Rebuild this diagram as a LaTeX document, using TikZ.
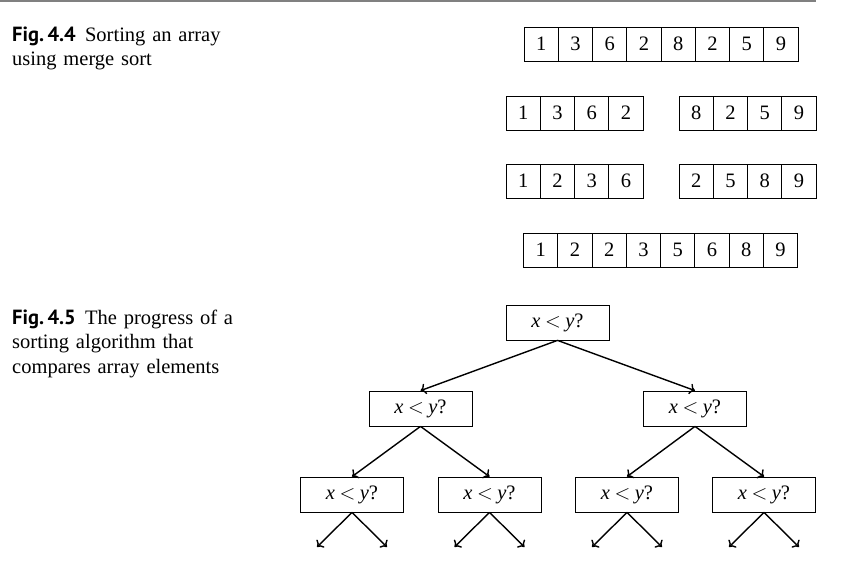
\documentclass[tikz,border=0pt]{standalone}
\usepackage{fontspec}
\setmainfont{Liberation Serif}
\newfontfamily\capfont{PT Sans}
\usetikzlibrary{arrows.meta}
\newcommand{\xlty}{\textit{x}\hspace{0.22em}$<$\hspace{0.22em}\textit{y}?}
\begin{document}
\begin{tikzpicture}[x=1pt,y=-1pt,
  font=\fontsize{20.5}{24.5}\selectfont,
  cell/.style={draw, line width=0.75pt, minimum width=34.25pt, minimum height=34pt, inner sep=0pt},
  qbox/.style={draw, line width=0.75pt, minimum width=103pt, minimum height=35pt, inner sep=0pt},
  arr/.style={line width=1.4pt, -{To[length=5.5pt,width=11pt]}},
  capt/.style={text width=250pt, align=left, inner sep=0pt, anchor=base west}]
\useasboundingbox (0,0) rectangle (861,568);
% top rule
\draw[line width=1.5pt, color=black!50] (0,1) -- (816,1);
% captions
\node[capt] (cap44) at (12,41) {{\capfont\bfseries Fig.\,4.4}\hspace{0.45em}Sorting an array\\using merge sort};
\node[capt] (cap45) at (12,324) {{\capfont\bfseries Fig.\,4.5}\hspace{0.45em}The progress of a\\sorting algorithm that\\compares array elements};
% arrays
\foreach \v [count=\i] in {1,3,6,2,8,2,5,9}
  \node[cell] (ra-\i) at ({524+34.25*(\i-0.5)},44) {\v};
\foreach \v [count=\i] in {1,3,6,2}
  \node[cell] (rbl-\i) at ({506+34.25*(\i-0.5)},113) {\v};
\foreach \v [count=\i] in {8,2,5,9}
  \node[cell] (rbr-\i) at ({679+34.25*(\i-0.5)},113) {\v};
\foreach \v [count=\i] in {1,2,3,6}
  \node[cell] (rcl-\i) at ({506+34.25*(\i-0.5)},181) {\v};
\foreach \v [count=\i] in {2,5,8,9}
  \node[cell] (rcr-\i) at ({679+34.25*(\i-0.5)},181) {\v};
\foreach \v [count=\i] in {1,2,2,3,5,6,8,9}
  \node[cell] (rd-\i) at ({523.5+34.25*(\i-0.5)},250) {\v};
% tree
\node[qbox] (root) at (557.5,322.5) {\xlty};
\node[qbox] (l) at (420.5,408.5) {\xlty};
\node[qbox] (r) at (695,408.5) {\xlty};
\node[qbox] (ll) at (352,494.5) {\xlty};
\node[qbox] (lr) at (489.5,494.5) {\xlty};
\node[qbox] (rl) at (627,494.5) {\xlty};
\node[qbox] (rr) at (764,494.5) {\xlty};
\draw[arr] (root.south) -- (l.north);
\draw[arr] (root.south) -- (r.north);
\draw[arr] (l.south) -- (ll.north);
\draw[arr] (l.south) -- (lr.north);
\draw[arr] (r.south) -- (rl.north);
\draw[arr] (r.south) -- (rr.north);
\foreach \n/\cx in {ll/352, lr/489.5, rl/627, rr/764} {
  \coordinate (\n-a) at (\cx-35,547);
  \coordinate (\n-b) at (\cx+35,547);
  \draw[arr] (\n.south) -- (\n-a);
  \draw[arr] (\n.south) -- (\n-b);
}
\end{tikzpicture}
\end{document}
